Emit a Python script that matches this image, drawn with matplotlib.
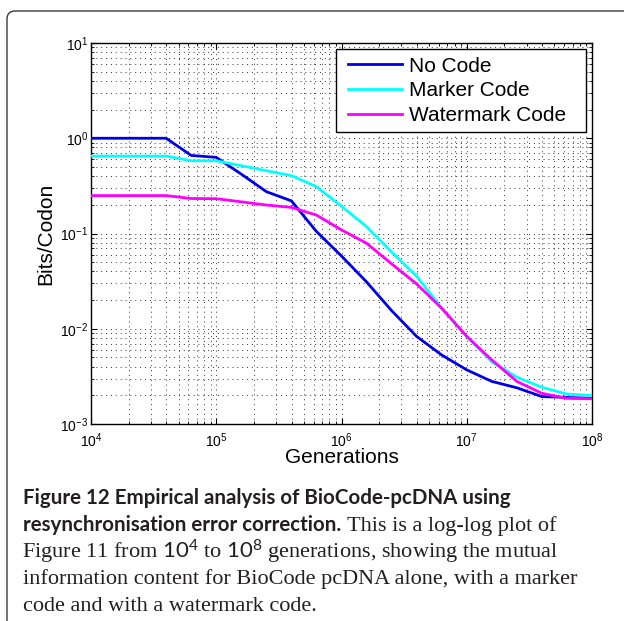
import numpy as np
import matplotlib
matplotlib.use('Agg')
import matplotlib.pyplot as plt
from matplotlib.patches import FancyBboxPatch, Rectangle
from matplotlib.ticker import LogLocator, NullFormatter

# ---- data ----
generations = [1.0e4, 1.585e4, 2.512e4, 3.981e4, 6.310e4, 1.0e5, 1.585e5, 2.512e5,
               3.981e5, 6.310e5, 1.0e6, 1.585e6, 2.512e6, 3.981e6, 6.310e6, 1.0e7,
               1.585e7, 2.512e7, 3.981e7, 6.310e7, 1.0e8]
no_code = [1.0, 1.0, 1.0, 1.0, 0.66, 0.63, 0.42, 0.275, 0.22, 0.105, 0.058, 0.031,
           0.0155, 0.0083, 0.0053, 0.0037, 0.0028, 0.0024, 0.00194, 0.0019, 0.00186]
marker_code = [0.65, 0.65, 0.65, 0.65, 0.58, 0.58, 0.515, 0.456, 0.405, 0.31, 0.193,
               0.118, 0.064, 0.0355, 0.0164, 0.0083, 0.0045, 0.0031, 0.00243, 0.00206, 0.0020]
watermark_code = [0.25, 0.25, 0.25, 0.25, 0.233, 0.232, 0.215, 0.199, 0.188, 0.156,
                  0.109, 0.079, 0.048, 0.0295, 0.0164, 0.0083, 0.0047, 0.0028, 0.0021,
                  0.00186, 0.00184]
series_labels = ["No Code", "Marker Code", "Watermark Code"]
series_colors = ["#0000e6", "#00ffff", "#ff00ff"]

caption_bold_1 = "Figure 12 Empirical analysis of BioCode-pcDNA using"
caption_bold_2 = "resynchronisation error correction."
caption_rest_2 = "This is a log-log plot of"
caption_lines = [
    r"Figure 11 from $\mathrm{10^4}$ to $\mathrm{10^8}$ generations, showing the mutual",
    "information content for BioCode pcDNA alone, with a marker",
    "code and with a watermark code.",
]

plt.rcParams['font.family'] = ['Liberation Sans', 'DejaVu Sans']
plt.rcParams['mathtext.fontset'] = 'custom'
plt.rcParams['mathtext.rm'] = 'Lato'

W, H = 624, 621
fig = plt.figure(figsize=(W / 100, H / 100), dpi=100)

def fx(px):
    return px / W

def fy(py):
    return 1 - py / H

# outer frame with rounded top-left corner
frame = FancyBboxPatch((fx(7), -0.2), 1.3, fy(11) + 0.2,
                       boxstyle="round,pad=0,rounding_size=0.013",
                       transform=fig.transFigure, fill=False,
                       edgecolor="#3a3a3a", linewidth=1.0)
fig.patches.append(frame)

ax_l, ax_r, ax_t, ax_b = 91, 592, 43, 424
ax = fig.add_axes([fx(ax_l), fy(ax_b), (ax_r - ax_l) / W, (ax_b - ax_t) / H])

for ys, lab, col in zip([no_code, marker_code, watermark_code], series_labels, series_colors):
    ax.plot(generations, ys, color=col, lw=2.0, label=lab, zorder=3)

ax.set_xscale('log')
ax.set_yscale('log')
ax.set_xlim(1e4, 1e8)
ax.set_ylim(1e-3, 1e1)
ax.xaxis.set_major_locator(LogLocator(base=10, numticks=10))
ax.yaxis.set_major_locator(LogLocator(base=10, numticks=10))
ax.xaxis.set_minor_locator(LogLocator(base=10, subs=np.arange(2, 10), numticks=20))
ax.yaxis.set_minor_locator(LogLocator(base=10, subs=np.arange(2, 10), numticks=20))
ax.xaxis.set_minor_formatter(NullFormatter())
ax.yaxis.set_minor_formatter(NullFormatter())

ax.grid(True, which='both', linestyle=(0, (1, 4)), color='#333333', linewidth=0.7)
ax.tick_params(which='both', direction='in', top=True, right=True, colors='k',
               labelsize=10)
ax.tick_params(which='major', length=4, width=0.8)
ax.tick_params(which='minor', length=2.5, width=0.6)
ax.tick_params(axis='x', pad=5)
ax.tick_params(axis='y', pad=2)
for s in ax.spines.values():
    s.set_linewidth(1.0)
    s.set_color('k')

ax.set_xlabel("Generations", fontsize=15)
ax.set_ylabel("Bits/Codon", fontsize=15)
ax.xaxis.set_label_coords(0.5, -(448 - ax_b) / (ax_b - ax_t))
ax.yaxis.set_label_coords(-(91 - 55.5) / (ax_r - ax_l), 0.5)

# legend box (MATLAB style)
box_l, box_r, box_t, box_b = 336, 586, 49, 132
aw, ah = ax_r - ax_l, ax_b - ax_t
rect = Rectangle(((box_l - ax_l) / aw, 1 - (box_b - ax_t) / ah),
                 (box_r - box_l) / aw, (box_b - box_t) / ah,
                 transform=ax.transAxes, facecolor='white', edgecolor='k',
                 linewidth=1.0, zorder=4)
ax.add_patch(rect)
leg = ax.legend(loc='upper left', bbox_to_anchor=((348 - ax_l) / aw, 1 - (56.5 - ax_t) / ah),
                frameon=False, fontsize=15, borderpad=0, borderaxespad=0,
                handlelength=2.6, handletextpad=0.33, labelspacing=0.28)
leg.set_zorder(5)

# caption
cap_color = '#231f20'
x0 = 23
t1 = fig.text(fx(x0), fy(504), caption_bold_1, fontfamily='Lato', fontweight='bold',
              fontsize=13, color=cap_color, va='baseline', ha='left')
t2 = fig.text(fx(x0), fy(531), caption_bold_2, fontfamily='Lato', fontweight='bold',
              fontsize=13, color=cap_color, va='baseline', ha='left')
t4 = fig.text(fx(x0), fy(584), caption_lines[1], fontfamily='Liberation Serif',
              fontsize=13, color=cap_color, va='baseline', ha='left')
fig.canvas.draw()
r = fig.canvas.get_renderer()
bold_size = 13 * (511 - x0) / t1.get_window_extent(r).width
serif_size = 13 * (574 - x0) / t4.get_window_extent(r).width
t1.set_fontsize(bold_size)
t2.set_fontsize(bold_size)
t4.set_fontsize(serif_size)
t3 = fig.text(fx(x0 - 1.5), fy(558), caption_lines[0], fontfamily='Liberation Serif',
              fontsize=serif_size, color=cap_color, va='baseline', ha='left')
t5 = fig.text(fx(x0), fy(611), caption_lines[2], fontfamily='Liberation Serif',
              fontsize=serif_size, color=cap_color, va='baseline', ha='left')
fig.canvas.draw()
b2 = t2.get_window_extent(r)
fig.text(fx(b2.x1 + 6), fy(531), caption_rest_2, fontfamily='Liberation Serif',
         fontsize=serif_size, color=cap_color, va='baseline', ha='left')

fig.savefig('out.png', dpi=100)
